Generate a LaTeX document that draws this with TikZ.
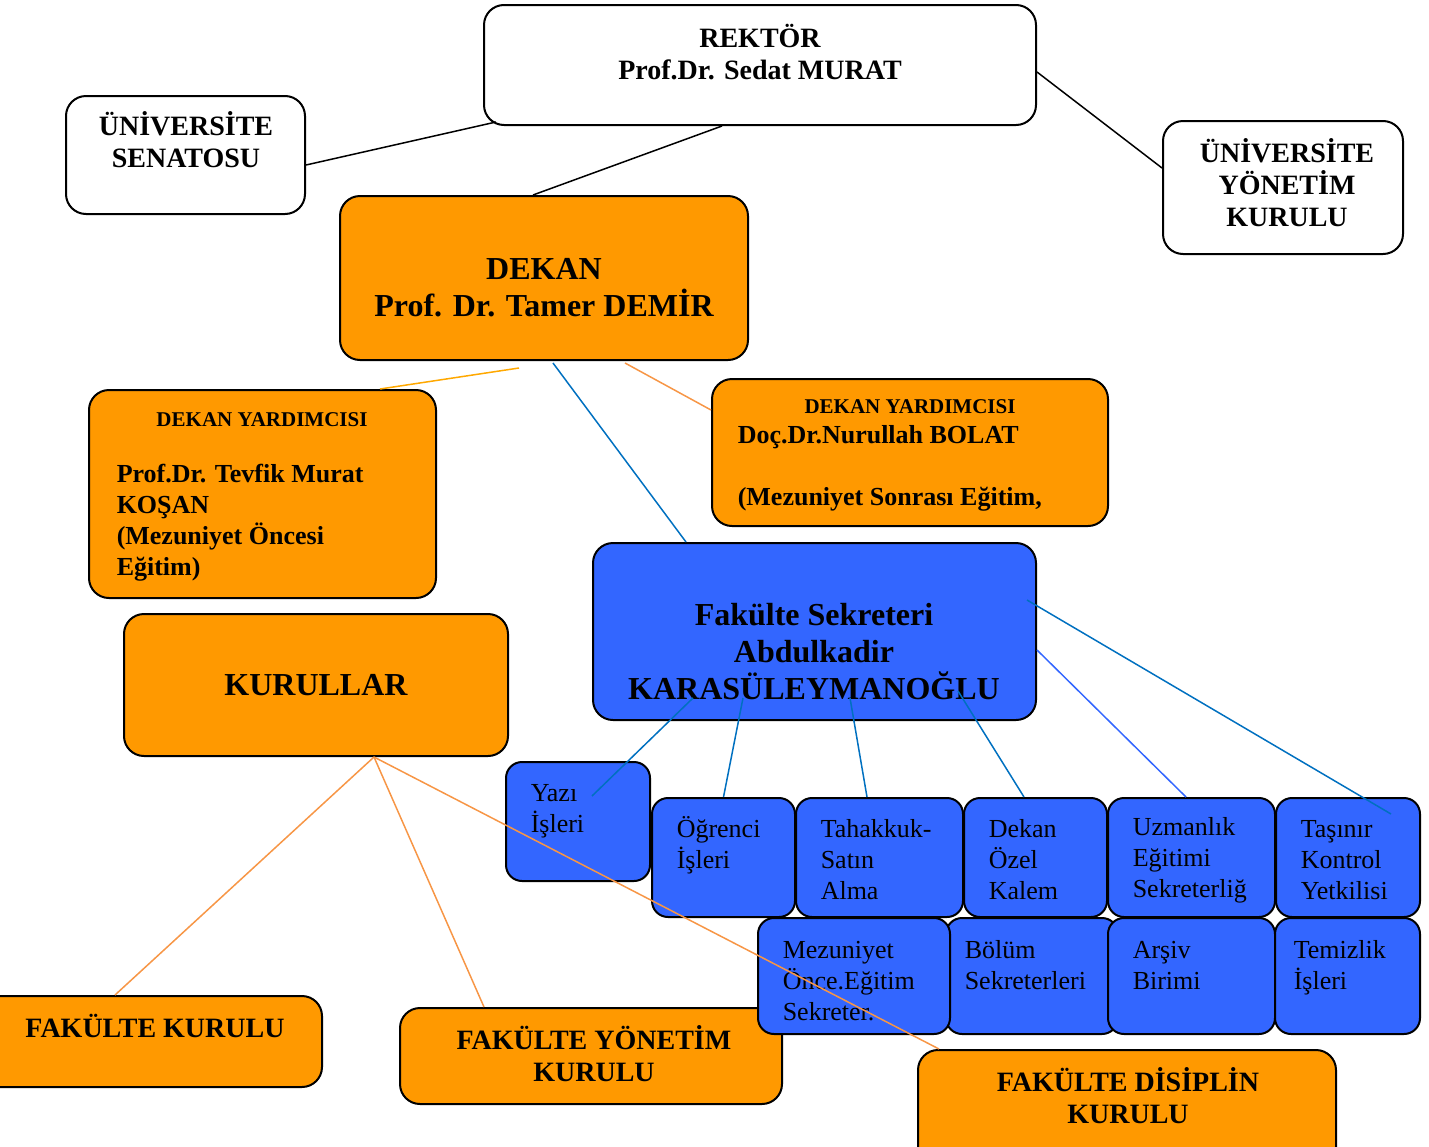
\documentclass[tikz,border=0pt]{standalone}
\usepackage{fontspec}
\setmainfont{Liberation Serif}
\usetikzlibrary{positioning, fit}

\definecolor{turuncu}{HTML}{FF9900}
\definecolor{mavi}{HTML}{3366FF}
\definecolor{tcizgi}{HTML}{F79646}
\definecolor{mcizgi}{HTML}{0070C0}

\begin{document}
\begin{tikzpicture}[x=0.5pt, y=-0.5pt, line width=0.75pt,
  kutu/.style={draw, line width=1pt, rounded corners=10pt, inner sep=0pt},
  beyazkutu/.style={kutu, fill=white},
  turuncukutu/.style={kutu, fill=turuncu},
  mavikutu/.style={kutu, fill=mavi, rounded corners=8pt},
  baslik/.style={inner sep=0pt, align=center, font=\bfseries\fontsize{14}{16}\selectfont},
  buyukbaslik/.style={baslik, font=\bfseries\fontsize{16}{18.5}\selectfont},
  birim/.style={inner sep=0pt, anchor=west, align=left, font=\fontsize{13}{15.5}\selectfont}]

\useasboundingbox (0,0) rectangle (1429,1146);

% ust kisim
\node[beyazkutu, fit={(484,5) (1036,125)}] (rektor) {};
\node[beyazkutu, fit={(66,96) (305,214)}] (senato) {};
\node[beyazkutu, fit={(1163,121) (1403,254)}] (ykurul) {};
\node[baslik] (rektor-y) at (760,52) {REKTÖR\\Prof.Dr. Sedat MURAT};
\node[baslik] (senato-y) at (186,140) {ÜNİVERSİTE\\SENATOSU};
\node[baslik] (ykurul-y) at (1287,183) {ÜNİVERSİTE\\YÖNETİM\\KURULU};

% dekanlik
\node[turuncukutu, fit={(340,196) (748,360)}] (dekan) {};
\node[buyukbaslik] (dekan-y) at (544,288) {DEKAN\\Prof. Dr. Tamer DEMİR};

\node[turuncukutu, fit={(89,390) (436,598)}] (dy1) {};
\node[baslik, font=\bfseries\fontsize{10.5}{12}\selectfont] (dy1-b) at (262,420) {DEKAN YARDIMCISI};
\node[birim, font=\bfseries\fontsize{13}{15.5}\selectfont] (dy1-y) at (116,523) {Prof.Dr. Tevfik Murat\\KOŞAN\\(Mezuniyet Öncesi\\Eğitim)};

\node[turuncukutu, fit={(712,379) (1108,526)}] (dy2) {};
\node[baslik, font=\bfseries\fontsize{10.5}{12}\selectfont] (dy2-b) at (910,407) {DEKAN YARDIMCISI};
\node[birim, font=\bfseries\fontsize{13}{15.5}\selectfont] (dy2-y) at (737,468) {Doç.Dr.Nurullah BOLAT\\[15.5pt](Mezuniyet Sonrası Eğitim,};

\node[turuncukutu, fit={(124,614) (508,756)}] (kurullar) {};
\node[buyukbaslik] (kurullar-y) at (316,685) {KURULLAR};

% kurullar
\node[turuncukutu, fit={(-20,996) (322,1087)}] (fkurul) {};
\node[baslik] (fkurul-y) at (155,1026) {FAKÜLTE KURULU};
\node[turuncukutu, fit={(400,1008) (782,1104)}] (fyk) {};
\node[baslik] (fyk-y) at (594,1054) {FAKÜLTE YÖNETİM\\KURULU};
\node[turuncukutu, fit={(918,1050) (1336,1170)}] (disiplin) {};
\node[baslik] (disiplin-y) at (1128,1096) {FAKÜLTE DİSİPLİN\\KURULU};

% fakulte sekreterligi
\node[mavikutu, rounded corners=10pt, fit={(593,543) (1036,720)}] (fsek) {};
\node[buyukbaslik] (fsek-y) at (814,652) {Fakülte Sekreteri\\Abdulkadir\\KARASÜLEYMANOĞLU};

\node[mavikutu, fit={(506,762) (650,881)}] (yazi) {};
\node[mavikutu, fit={(652,798) (795,917)}] (ogrenci) {};
\node[mavikutu, fit={(796,798) (963,917)}] (tahakkuk) {};
\node[mavikutu, fit={(964,798) (1107,917)}] (ozel) {};
\node[mavikutu, fit={(1108,798) (1275,917)}] (uzman) {};
\node[mavikutu, fit={(1276,798) (1420,917)}] (tasinir) {};
\node[mavikutu, fit={(946,918) (1118,1034)}] (bolum) {};
\node[mavikutu, fit={(758,918) (950,1034)}] (mezuniyet) {};
\node[mavikutu, fit={(1108,918) (1275,1034)}] (arsiv) {};
\node[mavikutu, fit={(1275,918) (1420,1034)}] (temizlik) {};

\node[birim] (yazi-y) at (530,811) {Yazı\\İşleri};
\node[birim] (ogrenci-y) at (676,845) {Öğrenci\\İşleri};
\node[birim] (tahakkuk-y) at (820,860) {Tahakkuk-\\Satın\\Alma};
\node[birim] (ozel-y) at (988,860) {Dekan\\Özel\\Kalem};
\node[birim] (uzman-y) at (1132,860) {Uzmanlık\\Eğitimi\\Sekreterliğ};
\node[birim] (tasinir-y) at (1300,860) {Taşınır\\Kontrol\\Yetkilisi};
\node[birim] (mezuniyet-y) at (782,981) {Mezuniyet\\Önce.Eğitim\\Sekreter.};
\node[birim] (bolum-y) at (964,965) {Bölüm\\Sekreterleri};
\node[birim] (arsiv-y) at (1132,965) {Arşiv\\Birimi};
\node[birim] (temizlik-y) at (1293,968) {Temizlik\\İşleri};

% baglantilar
\draw ([yshift=-5pt]senato.east) -- ([shift={(6.5pt,2pt)}]rektor.south west);
\draw ([yshift=-3.5pt]rektor.east) -- ([yshift=9.75pt]ykurul.west);
\draw ([xshift=-19pt]rektor.south) -- ([xshift=-5.5pt]dekan.north);

\draw[draw=turuncu!85!yellow] ([shift={(-12.5pt,-3.5pt)}]dekan.south) -- ([xshift=58.75pt]dy1.north);
\draw[tcizgi] ([shift={(40.5pt,-1pt)}]dekan.south) -- ([yshift=21.25pt]dy2.west);
\draw[mcizgi] ([shift={(4.5pt,-1pt)}]dekan.south) -- ([xshift=-64.25pt]fsek.north);

\draw[mcizgi] ([shift={(-60.75pt,11.5pt)}]fsek.south) -- ([shift={(43.5pt,-17.5pt)}]yazi.north west);
\draw[mcizgi] ([shift={(-35.75pt,11.5pt)}]fsek.south) -- (ogrenci.north);
\draw[mcizgi] ([shift={(17.75pt,11.5pt)}]fsek.south) -- ([xshift=-6.25pt]tahakkuk.north);
\draw[mcizgi] ([shift={(71.75pt,15pt)}]fsek.south) -- ([xshift=-5.75pt]ozel.north);
\draw[mavi] ([yshift=-9.25pt]fsek.east) -- ([xshift=-2.75pt]uzman.north);
\draw[mcizgi] ([shift={(-5pt,15.75pt)}]fsek.east) -- ([shift={(-15pt,-8.5pt)}]tasinir.north east);

\coordinate (kk) at ([xshift=29pt]kurullar.south);
\draw[tcizgi] (kk) -- ([xshift=-18pt]fkurul.north);
\draw[tcizgi] (kk) -- ([xshift=-53.5pt]fyk.north);
\draw[tcizgi] (kk) -- ([xshift=11pt]disiplin.north west);

\end{tikzpicture}
\end{document}
